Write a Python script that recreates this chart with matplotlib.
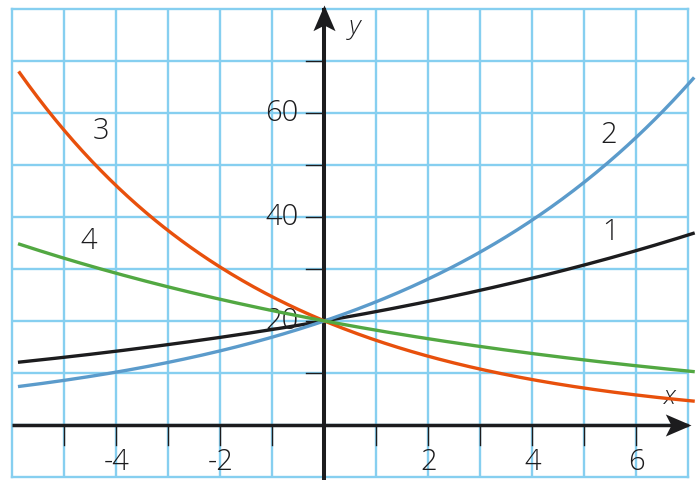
import numpy as np
import matplotlib.pyplot as plt
from matplotlib.path import Path
from matplotlib.markers import MarkerStyle
from matplotlib.transforms import Affine2D

plt.rcParams['font.family'] = ['Open Sans', 'DejaVu Sans']
plt.rcParams['font.weight'] = 'light'

# y = start * base**x
start = 20
bases = [1.09, 1.185, 0.812, 0.91]
names = ['1', '2', '3', '4']
colors = ['#1c1c1e', '#5b9bcb', '#e8500c', '#52a842']
label_pos = [(5.5, 37.1), (5.46, 55.8), (-4.29, 56.5), (-4.54, 35.4)]

x_ticks = [-5, -4, -3, -2, -1, 1, 2, 3, 4, 5, 6]
x_labels = {-4: '-4', -2: '-2', 2: '2', 4: '4', 6: '6'}
y_ticks = [10, 20, 30, 40, 50, 60, 70]
y_labels = {20: '20', 40: '40', 60: '60'}

grid_col = '#86cff0'
ink = '#1c1c1e'

fig = plt.figure(figsize=(6.97, 4.87), dpi=100)
ax = fig.add_axes([0.0177, 0.0211, 0.97, 0.9599])
ax.set_xlim(-6, 7)
ax.set_ylim(-10, 80)
ax.set_xticks([])
ax.set_yticks([])
for s in ax.spines.values():
    s.set_color(grid_col)
    s.set_linewidth(1.7)

# grid
for gx in range(-5, 7):
    ax.axvline(gx, color=grid_col, lw=1.7, zorder=1)
for gy in range(0, 80, 10):
    ax.axhline(gy, color=grid_col, lw=1.7, zorder=1)

# axes with arrow heads
ax.plot([-6, 7.0], [0, 0], color=ink, lw=2.5, zorder=3, clip_on=False, solid_capstyle='butt')
ax.plot([0, 0], [-10.7, 80.3], color=ink, lw=2.9, zorder=3, clip_on=False, solid_capstyle='butt')
head = Path([(0, 0), (-0.43, -1), (0, -0.78), (0.43, -1), (0, 0)],
            [Path.MOVETO, Path.LINETO, Path.LINETO, Path.LINETO, Path.CLOSEPOLY])
ax.plot(0, 80.8, marker=MarkerStyle(head), ms=37, color=ink, mec='none',
        zorder=4, clip_on=False)
ax.plot(7.05, 0, marker=MarkerStyle(head, transform=Affine2D().rotate_deg(-90)),
        ms=37, color=ink, mec='none', zorder=4, clip_on=False)

# ticks
for t in x_ticks:
    ax.plot([t, t], [0, -3.9], color=ink, lw=1.0, zorder=3)
    if t in x_labels:
        ax.text(t, -7.3, x_labels[t], ha='center', va='center', fontsize=21, color=ink)
for t in y_ticks:
    ax.plot([-0.35, 0], [t, t], color=ink, lw=1.0, zorder=3)
    if t in y_labels:
        ax.text(-0.5, t, y_labels[t], ha='right', va='center', fontsize=21, color=ink, zorder=3)

ax.text(0.58, 76.5, 'y', fontsize=19, style='italic', ha='center', va='center', color=ink)
ax.text(6.64, 5.3, 'x', fontsize=19, style='italic', ha='center', va='center', color=ink)

# curves
x = np.linspace(-5.86, 7.09, 300)
for b, c, n, (lx, ly) in zip(bases, colors, names, label_pos):
    ax.plot(x, start * b ** x, color=c, lw=2.4, zorder=5, clip_on=False)
    ax.text(lx, ly, n, fontsize=21, ha='center', va='center', color=ink, zorder=6)

fig.savefig('out.png', dpi=100)
